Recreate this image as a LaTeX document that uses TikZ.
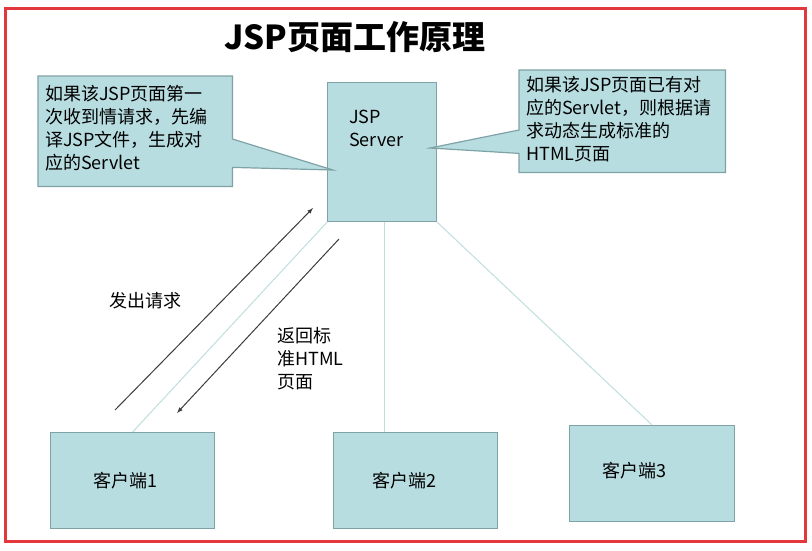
\documentclass[tikz,border=0pt]{standalone}
\usepackage{fontspec}
\setmainfont{Noto Sans CJK SC}
\usepackage{tikz}
\definecolor{boxfill}{HTML}{B8DDE1}
\definecolor{boxdraw}{HTML}{7FA2A6}
\definecolor{linkline}{HTML}{BEDFDE}
\definecolor{framered}{HTML}{E2373D}
\definecolor{arrowgray}{HTML}{3C3C3C}
\usetikzlibrary{arrows,positioning}
\tikzstyle{box} = [draw=boxdraw, fill=boxfill, line width=1.2pt, inner sep=0pt]
\tikzstyle{notearea} = [draw=none, fill=none, inner sep=0pt]
\tikzstyle{note} = [draw=boxdraw, fill=boxfill, line width=1.2pt, line join=miter]
\tikzstyle{txt} = [inner sep=0pt, align=left, font=\fontsize{18}{23}\selectfont]
\tikzstyle{link} = [draw=linkline, line width=1pt]
\tikzstyle{msg} = [draw=arrowgray, -latex, line width=1pt]
\newcommand{\titlesize}{\fontsize{33}{38}\selectfont\bfseries}

\begin{document}
\begin{tikzpicture}[x=1pt,y=-1pt]
	\useasboundingbox (0,0) rectangle (812,550);
	% The frame:
	\draw[framered, line width=3pt] (5,8) rectangle (805,541);
	\node[inner sep=0pt, font=\titlesize] (title) at (355,37) {JSP页面工作原理};

	% Server:
	\node[box, minimum width=109pt, minimum height=139pt, anchor=north west] (server) at (327,82) {};
	\node[txt, anchor=north west] (servertxt)
		at ([xshift=22pt,yshift=-28pt]server.north west) {JSP\\Server};

	% Clients:
	\node[box, minimum width=164pt, minimum height=96pt, anchor=north west] (client1) at (50,432) {};
	\node[box, minimum width=164pt, minimum height=96pt, anchor=north west] (client2) at (333,432) {};
	\node[box, minimum width=165pt, minimum height=96pt, anchor=north west] (client3) at (569,425) {};
	\node[txt] (client1txt) at ([xshift=-7pt]client1.center) {客户端1};
	\node[txt] (client2txt) at ([xshift=-11pt]client2.center) {客户端2};
	\node[txt] (client3txt) at ([xshift=-18pt,yshift=3pt]client3.center) {客户端3};

	% Links:
	\draw[link] (server.south west) -- (client1.north);
	\draw[link] ([xshift=2pt]server.south) -- ([xshift=2pt]server.south |- client2.north);
	\draw[link] (server.south east) -- (client3.north);

	% Request / response:
	\coordinate (reqfrom) at (115,410);
	\coordinate (reqto) at (313,208);
	\coordinate (respfrom) at (339,239);
	\coordinate (respto) at (177,413);
	\draw[msg] (reqfrom) -- (reqto);
	\draw[msg] (respfrom) -- (respto);
	\node[txt] (reqtxt) at (145,301) {发出请求};
	\node[txt, anchor=north west] (resptxt) at (277,327) {返回标\\准HTML\\页面};

	% Notes:
	\node[notearea, minimum width=194pt, minimum height=110pt, anchor=north west] (noteL) at (38,76) {};
	\coordinate (tipL) at (333,170);
	\draw[note] (noteL.north west) -- (noteL.north east) -- ([yshift=-63pt]noteL.north east)
		-- (tipL) -- ([yshift=19pt]noteL.south east) -- (noteL.south east) -- (noteL.south west) -- cycle;
	\node[txt, anchor=north west] (noteLtxt) at ([xshift=7pt,yshift=-9pt]noteL.north west)
		{如果该JSP页面第一\\次收到情请求，先编\\译JSP文件，生成对\\应的Servlet};

	\node[notearea, minimum width=206pt, minimum height=102pt, anchor=north west] (noteR) at (519,70) {};
	\coordinate (tipR) at (430,148);
	\draw[note] (noteR.north west) -- (noteR.north east) -- (noteR.south east) -- (noteR.south west)
		-- ([yshift=19pt]noteR.south west) -- (tipR) -- ([yshift=-60pt]noteR.north west) -- cycle;
	\node[txt, anchor=north west] (noteRtxt) at ([xshift=7pt,yshift=-6pt]noteR.north west)
		{如果该JSP页面已有对\\应的Servlet，则根据请\\求动态生成标准的\\HTML页面};
\end{tikzpicture}
\end{document}
